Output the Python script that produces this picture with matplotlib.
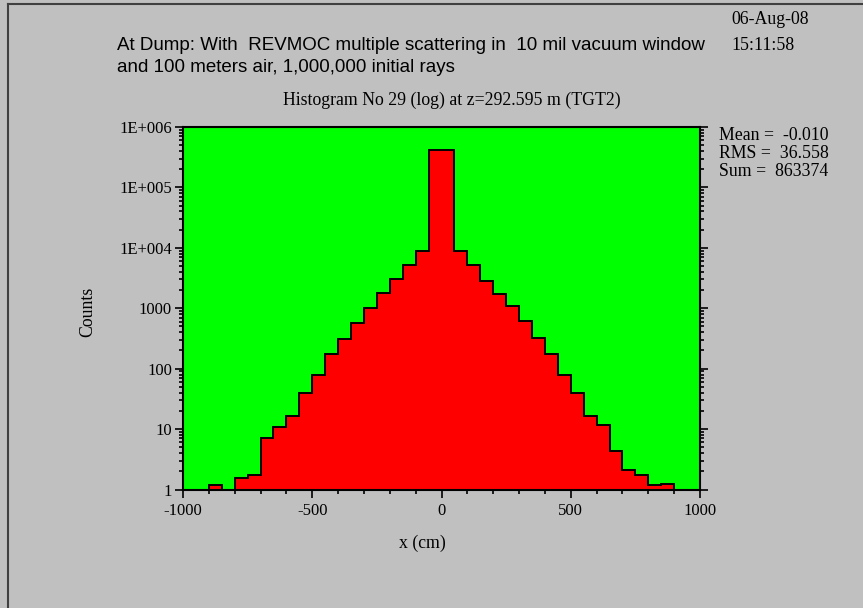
import numpy as np
import matplotlib.pyplot as plt
from matplotlib.ticker import FixedLocator, LogLocator, MultipleLocator, NullFormatter

# histogram of x at the dump, 50 cm bins from -1000 to 1000
bin_edges = np.arange(-1000, 1001, 50)
counts = [0, 0, 1.18, 0, 1.56, 1.77, 7.0, 10.9, 16.4, 39, 78, 175, 307, 579,
          1027, 1800, 3073, 5105, 8710, 410700, 410700, 8710, 5105, 2878, 1714,
          1084, 611, 327, 175, 78, 39, 16.4, 11.6, 4.4, 2.1, 1.75, 1.18, 1.24, 0, 0]

ytick_vals = [1, 10, 100, 1000, 1e4, 1e5, 1e6]
ytick_labels = ['1', '10', '100', '1000', '1E+004', '1E+005', '1E+006']
xtick_vals = [-1000, -500, 0, 500, 1000]

title_lines = ["At Dump: With  REVMOC multiple scattering in  10 mil vacuum window",
               "and 100 meters air, 1,000,000 initial rays"]
hist_title = "Histogram No 29 (log) at z=292.595 m (TGT2)"
stats = ["Mean =  -0.010", "RMS =  36.558", "Sum =  863374"]

W, H = 863, 608
serif = 'Liberation Serif'
sans = 'Liberation Sans'
fs = 12.8

def fx(px):
    return px / W

def fy(py):
    return 1 - py / H

fig = plt.figure(figsize=(W / 100, H / 100), dpi=100, facecolor='#c0c0c0')

# frame lines along top and left edge
fig.add_artist(plt.Line2D([fx(8), fx(863)], [fy(4), fy(4)], color='#404040', lw=1.5))
fig.add_artist(plt.Line2D([fx(8), fx(8)], [fy(4), fy(608)], color='#404040', lw=1.5))

ax = fig.add_axes([fx(183), fy(489.5), fx(700) - fx(183), fy(127) - fy(489.5)])
ax.set_facecolor('#00ff00')

drawn = np.clip(counts, 1, None)
ax.stairs(drawn, bin_edges, baseline=1, fill=True, facecolor='#ff0000',
          edgecolor='black', lw=1.4)

ax.set_yscale('log')
ax.set_xlim(-1000, 1000)
ax.set_ylim(1, 1e6)

ax.yaxis.set_major_locator(FixedLocator(ytick_vals))
ax.set_yticklabels(ytick_labels, fontfamily=serif, fontsize=12)
ax.yaxis.set_minor_locator(LogLocator(base=10, subs=range(2, 10), numticks=20))
ax.yaxis.set_minor_formatter(NullFormatter())

ax.xaxis.set_major_locator(FixedLocator(xtick_vals))
ax.set_xticklabels([str(v) for v in xtick_vals], fontfamily=serif, fontsize=12)
ax.xaxis.set_minor_locator(MultipleLocator(100))

ax.tick_params(which='both', direction='out', right=True, top=False, width=1.2, color='black')
ax.tick_params(which='major', length=6, pad=2)
ax.tick_params(axis='x', which='major', pad=4)
ax.tick_params(which='minor', length=3)
for s in ax.spines.values():
    s.set_linewidth(1.5)

fig.text(fx(88), fy(312), "Counts", rotation=90, ha='center', va='center',
         fontfamily=serif, fontsize=fs)
fig.text(fx(422), fy(543), "x (cm)", ha='center', va='center', fontfamily=serif, fontsize=fs)

fig.text(fx(117), fy(45), title_lines[0], ha='left', va='center', fontfamily=sans, fontsize=13.5)
fig.text(fx(117), fy(67), title_lines[1], ha='left', va='center', fontfamily=sans, fontsize=13.5)
fig.text(fx(452), fy(100), hist_title, ha='center', va='center', fontfamily=serif, fontsize=fs)

fig.text(fx(731), fy(20), "06-Aug-08", ha='left', va='center', fontfamily=serif, fontsize=fs)
fig.text(fx(731), fy(45), "15:11:58", ha='left', va='center', fontfamily=serif, fontsize=fs)
for i, line in enumerate(stats):
    fig.text(fx(719), fy(136 + 18 * i), line, ha='left', va='center', fontfamily=serif, fontsize=fs)

fig.savefig('out.png', dpi=100, facecolor=fig.get_facecolor())
